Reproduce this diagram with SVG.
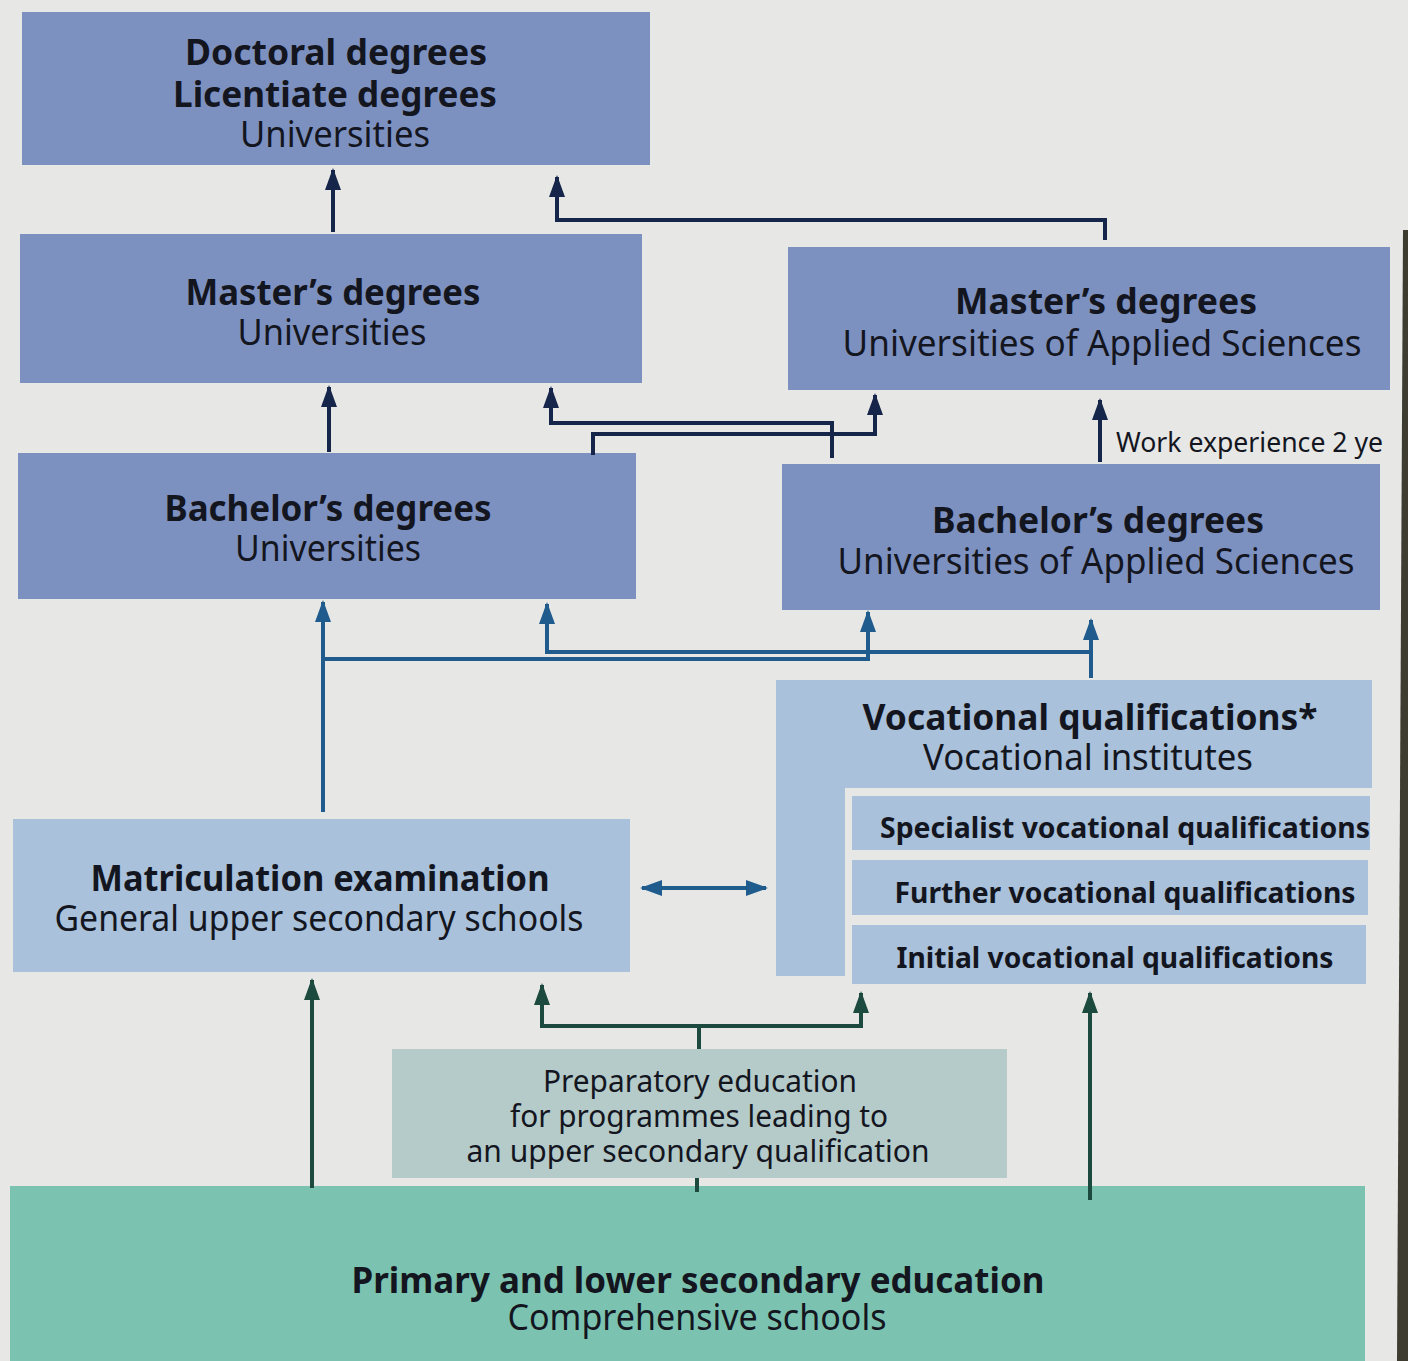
<svg xmlns="http://www.w3.org/2000/svg" width="1408" height="1361" viewBox="0 0 1408 1361">
<style>
.dark{fill:#7d91c1}
.light{fill:#a9c1db}
.prep{fill:#b4cbca}
.base{fill:#7bc3b0}
text{font-family:"Noto Sans","Liberation Sans",sans-serif;fill:#14161f;text-anchor:middle}
.b{font-weight:bold;font-size:36px}
.r{font-size:36px}
.s{font-weight:bold;font-size:29px}
.p{font-size:31px}
.w{font-size:27px;text-anchor:start}
.c{fill:none;stroke-width:4}
.navy{stroke:#16264a}
.blue{stroke:#1f5b8c}
.green{stroke:#1c4a3e}
</style>
<defs>
<marker id="an" markerUnits="userSpaceOnUse" viewBox="0 0 22 16" refX="20" refY="8" markerWidth="22" markerHeight="16" orient="auto"><path d="M0,0 L22,8 L0,16 Z" fill="#16264a"/></marker>
<marker id="ab" markerUnits="userSpaceOnUse" viewBox="0 0 22 16" refX="20" refY="8" markerWidth="22" markerHeight="16" orient="auto-start-reverse"><path d="M0,0 L22,8 L0,16 Z" fill="#1f5b8c"/></marker>
<marker id="ag" markerUnits="userSpaceOnUse" viewBox="0 0 22 16" refX="20" refY="8" markerWidth="22" markerHeight="16" orient="auto"><path d="M0,0 L22,8 L0,16 Z" fill="#1c4a3e"/></marker>
</defs>
<rect width="1408" height="1361" fill="#e7e7e5"/>
<polygon points="1403,230 1408,230 1408,1361 1397,1361" fill="#3e3b31"/>

<g id="doctoral">
<rect class="dark" x="22" y="12" width="628" height="153"/>
<text class="b" x="336" y="65" textLength="302" lengthAdjust="spacingAndGlyphs">Doctoral degrees</text>
<text class="b" x="335" y="107" textLength="324" lengthAdjust="spacingAndGlyphs">Licentiate degrees</text>
<text class="r" x="335" y="147" textLength="190" lengthAdjust="spacingAndGlyphs">Universities</text>
</g>
<g id="masters-univ">
<rect class="dark" x="20" y="234" width="622" height="149"/>
<text class="b" x="333" y="305" textLength="295" lengthAdjust="spacingAndGlyphs">Master’s degrees</text>
<text class="r" x="332" y="345" textLength="189" lengthAdjust="spacingAndGlyphs">Universities</text>
</g>
<g id="masters-uas">
<rect class="dark" x="788" y="247" width="602" height="143"/>
<text class="b" x="1106" y="314" textLength="302" lengthAdjust="spacingAndGlyphs">Master’s degrees</text>
<text class="r" x="1102" y="356" textLength="519" lengthAdjust="spacingAndGlyphs">Universities of Applied Sciences</text>
</g>
<g id="bachelors-univ">
<rect class="dark" x="18" y="453" width="618" height="146"/>
<text class="b" x="328" y="521" textLength="327" lengthAdjust="spacingAndGlyphs">Bachelor’s degrees</text>
<text class="r" x="328" y="561" textLength="186" lengthAdjust="spacingAndGlyphs">Universities</text>
</g>
<g id="bachelors-uas">
<rect class="dark" x="782" y="464" width="598" height="146"/>
<text class="b" x="1098" y="533" textLength="332" lengthAdjust="spacingAndGlyphs">Bachelor’s degrees</text>
<text class="r" x="1096" y="574" textLength="517" lengthAdjust="spacingAndGlyphs">Universities of Applied Sciences</text>
</g>
<g id="work-experience">
<text class="w" x="1116" y="452" textLength="267" lengthAdjust="spacingAndGlyphs">Work experience 2 ye</text>
</g>
<g id="vocational">
<path class="light" d="M776,680 H1372 V788 H845 V976 H776 Z"/>
<text class="b" x="1090" y="730" textLength="455" lengthAdjust="spacingAndGlyphs">Vocational qualifications*</text>
<text class="r" x="1088" y="770" textLength="330" lengthAdjust="spacingAndGlyphs">Vocational institutes</text>
</g>
<g id="specialist">
<rect class="light" x="852" y="796" width="518" height="54"/>
<text class="s" x="1125" y="838" textLength="490" lengthAdjust="spacingAndGlyphs">Specialist vocational qualifications</text>
</g>
<g id="further">
<rect class="light" x="852" y="860" width="516" height="55"/>
<text class="s" x="1125" y="903" textLength="461" lengthAdjust="spacingAndGlyphs">Further vocational qualifications</text>
</g>
<g id="initial">
<rect class="light" x="852" y="925" width="514" height="59"/>
<text class="s" x="1115" y="968" textLength="437" lengthAdjust="spacingAndGlyphs">Initial vocational qualifications</text>
</g>
<g id="matriculation">
<rect class="light" x="13" y="819" width="617" height="153"/>
<text class="b" x="320" y="891" textLength="459" lengthAdjust="spacingAndGlyphs">Matriculation examination</text>
<text class="r" x="319" y="931" textLength="529" lengthAdjust="spacingAndGlyphs">General upper secondary schools</text>
</g>
<g id="preparatory">
<rect class="prep" x="392" y="1049" width="615" height="129"/>
<text class="p" x="700" y="1092" textLength="314" lengthAdjust="spacingAndGlyphs">Preparatory education</text>
<text class="p" x="699" y="1127" textLength="378" lengthAdjust="spacingAndGlyphs">for programmes leading to</text>
<text class="p" x="698" y="1162" textLength="463" lengthAdjust="spacingAndGlyphs">an upper secondary qualification</text>
</g>
<g id="primary">
<rect class="base" x="10" y="1186" width="1355" height="175"/>
<text class="b" x="698" y="1293" textLength="693" lengthAdjust="spacingAndGlyphs">Primary and lower secondary education</text>
<text class="r" x="697" y="1330" textLength="379" lengthAdjust="spacingAndGlyphs">Comprehensive schools</text>
</g>

<g id="connectors">
<path class="c navy" d="M333,232 V170" marker-end="url(#an)"/>
<path class="c navy" d="M1105,240 V220 H557 V177" marker-end="url(#an)"/>
<path class="c navy" d="M329,452 V387" marker-end="url(#an)"/>
<path class="c navy" d="M593,455 V434 H875 V395" marker-end="url(#an)"/>
<path class="c navy" d="M832,458 V423 H551 V388" marker-end="url(#an)"/>
<path class="c navy" d="M1100,462 V400" marker-end="url(#an)"/>
<path class="c blue" d="M323,812 V602" marker-end="url(#ab)"/>
<path class="c blue" d="M323,659 H868 V612" marker-end="url(#ab)"/>
<path class="c blue" d="M1091,678 V620" marker-end="url(#ab)"/>
<path class="c blue" d="M1091,652 H547 V604" marker-end="url(#ab)"/>
<path class="c blue" d="M642,888 H766" marker-start="url(#ab)" marker-end="url(#ab)"/>
<path class="c green" d="M312,1188 V980" marker-end="url(#ag)"/>
<path class="c green" d="M1090,1200 V993" marker-end="url(#ag)"/>
<path class="c green" d="M699,1049 V1026 H542 V985" marker-end="url(#ag)"/>
<path class="c green" d="M699,1026 H861 V993" marker-end="url(#ag)"/>
<path class="c green" d="M697,1178 V1192"/>
</g>
</svg>
